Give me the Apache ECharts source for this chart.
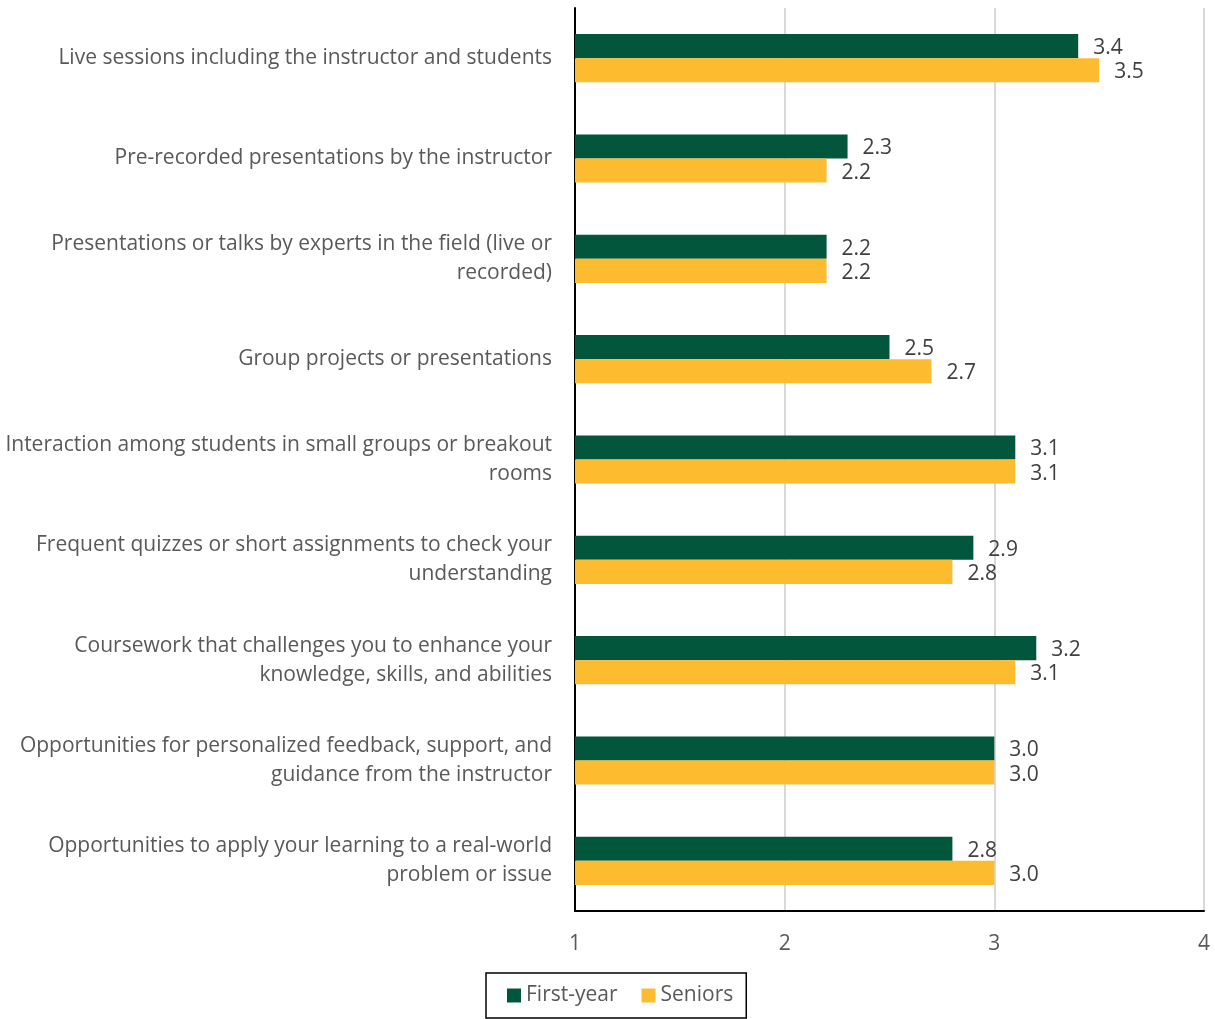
<!DOCTYPE html>
<html>
<head>
<meta charset="utf-8">
<script src="https://cdn.jsdelivr.net/npm/echarts@6/dist/echarts.min.js"></script>
<style>
  html, body { margin: 0; padding: 0; background: #fff; }
  #chart { width: 1215px; height: 1019px; }
</style>
</head>
<body>
<div id="chart"></div>
<script>
// Course features, listed top to bottom
const categories = [
  'Live sessions including the instructor and students',
  'Pre-recorded presentations by the instructor',
  'Presentations or talks by experts in the field (live or\nrecorded)',
  'Group projects or presentations',
  'Interaction among students in small groups or breakout\nrooms',
  'Frequent quizzes or short assignments to check your\nunderstanding',
  'Coursework that challenges you to enhance your\nknowledge, skills, and abilities',
  'Opportunities for personalized feedback, support, and\nguidance from the instructor',
  'Opportunities to apply your learning to a real-world\nproblem or issue'
];
const firstYear = [3.4, 2.3, 2.2, 2.5, 3.1, 2.9, 3.2, 3.0, 2.8];
const seniors   = [3.5, 2.2, 2.2, 2.7, 3.1, 2.8, 3.1, 3.0, 3.0];
const seriesNames = ['First-year', 'Seniors'];
const axisTicks = [1, 2, 3, 4];

const FONT = '"Open Sans"';
const SIZE = 21;
const chart = echarts.init(document.getElementById('chart'));

const label = {
  show: true,
  position: 'right',
  distance: 15,
  offset: [0, 2],
  color: '#404040',
  fontFamily: FONT,
  fontSize: SIZE,
  formatter: p => p.value.toFixed(1)
};

chart.setOption({
  animation: false,
  textStyle: { fontFamily: FONT },
  grid: { left: 575, right: 11, top: 8, bottom: 108, containLabel: false },
  legend: {
    data: seriesNames,
    left: 486,
    top: 973,
    itemWidth: 14,
    itemHeight: 14,
    itemGap: 24,
    icon: 'rect',
    borderColor: '#000',
    borderWidth: 1.5,
    padding: [12, 13, 12, 21],
    textStyle: { color: '#595959', fontSize: SIZE, fontFamily: FONT }
  },
  xAxis: {
    type: 'value',
    min: axisTicks[0],
    max: axisTicks[axisTicks.length - 1],
    interval: 1,
    axisLine: { show: true, lineStyle: { color: '#000', width: 2 } },
    axisTick: { show: false },
    axisLabel: { color: '#595959', fontSize: SIZE, fontFamily: FONT, margin: 23 },
    splitLine: { show: true, lineStyle: { color: '#d9d9d9', width: 2 } }
  },
  yAxis: {
    type: 'category',
    inverse: true,
    data: categories,
    axisLine: { show: true, lineStyle: { color: '#000', width: 2 } },
    axisTick: { show: false },
    axisLabel: {
      color: '#595959',
      fontSize: SIZE,
      fontFamily: FONT,
      margin: 23,
      align: 'right',
      lineHeight: 29,
      padding: [2, 0, 0, 0]
    }
  },
  series: [
    {
      name: seriesNames[0],
      type: 'bar',
      data: firstYear,
      barGap: '0%',
      barCategoryGap: '52%',
      itemStyle: { color: '#02563B' },
      label: label
    },
    {
      name: seriesNames[1],
      type: 'bar',
      data: seniors,
      barGap: '0%',
      barCategoryGap: '52%',
      itemStyle: { color: '#FDBB30' },
      label: label
    }
  ]
});
</script>
</body>
</html>
